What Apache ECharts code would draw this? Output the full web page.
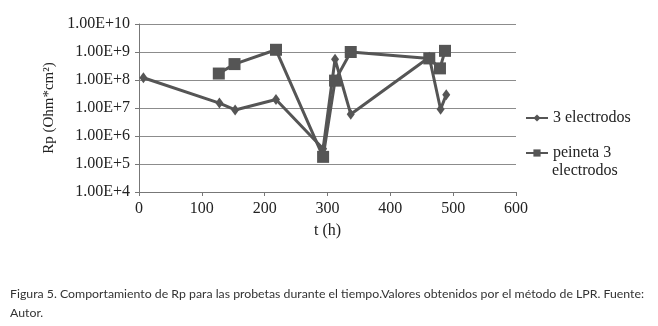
<!DOCTYPE html>
<html>
<head>
<meta charset="utf-8">
<script src="https://cdn.jsdelivr.net/npm/echarts@6/dist/echarts.min.js"></script>
<style>
  html, body { margin: 0; padding: 0; background: #fff; }
  #chart { width: 658px; height: 326px; }
</style>
</head>
<body>
<div id="chart"></div>
<script>
// datos
var tresElectrodosT = [7, 128, 153, 218, 293, 312, 337, 462, 480, 489];
var tresElectrodosRp = [1.2e8, 1.5e7, 8.5e6, 2.0e7, 3.5e5, 5.5e8, 6.0e6, 6.5e8, 9.0e6, 3.0e7];
var peinetaT = [127, 152, 218, 293, 312, 337, 462, 479, 487];
var peinetaRp = [1.7e8, 3.7e8, 1.2e9, 1.8e5, 9.5e7, 1.0e9, 5.9e8, 2.6e8, 1.1e9];
var xTicks = [0, 100, 200, 300, 400, 500, 600];
var yTicks = [1e4, 1e5, 1e6, 1e7, 1e8, 1e9, 1e10];

function pares(t, v) {
  var out = [];
  for (var i = 0; i < t.length; i++) out.push([t[i], v[i]]);
  return out;
}

var chart = echarts.init(document.getElementById('chart'));
var serif = '"Liberation Serif", "Times New Roman", serif';
var gris = '#555555';

var option = {
  animation: false,
  grid: { left: 139, right: 142, top: 24, bottom: 134 },
  xAxis: {
    type: 'value',
    min: xTicks[0],
    max: xTicks[xTicks.length - 1],
    interval: 100,
    name: 't (h)',
    nameLocation: 'middle',
    nameGap: 31,
    nameTextStyle: { fontFamily: serif, fontSize: 16, color: '#222' },
    axisLine: { lineStyle: { color: '#777', width: 1 } },
    axisTick: { show: true, length: 4, lineStyle: { color: '#777' } },
    axisLabel: { fontFamily: serif, fontSize: 16, color: '#222', margin: 9 },
    splitLine: { show: false }
  },
  yAxis: {
    type: 'log',
    logBase: 10,
    min: yTicks[0],
    max: yTicks[yTicks.length - 1],
    name: 'Rp (Ohm*cm²)',
    nameLocation: 'middle',
    nameGap: 76,
    nameTextStyle: { fontFamily: serif, fontSize: 15, color: '#222' },
    axisLine: { show: true, lineStyle: { color: '#777', width: 1 } },
    axisTick: { show: true, length: 4, lineStyle: { color: '#777' } },
    axisLabel: {
      fontFamily: serif, fontSize: 16, color: '#222', margin: 9,
      formatter: function (v) { return v.toExponential(2).toUpperCase(); }
    },
    splitLine: { show: true, lineStyle: { color: '#8c8c8c', width: 1 } }
  },
  legend: [
    {
      left: 520, top: 105, orient: 'vertical',
      itemWidth: 22, itemHeight: 9,
      textStyle: { fontFamily: serif, fontSize: 16, color: '#222' },
      data: ['3 electrodos']
    },
    {
      left: 520, top: 140, orient: 'vertical',
      itemWidth: 22, itemHeight: 9,
      textStyle: { fontFamily: serif, fontSize: 16, color: '#222' },
      formatter: function () { return 'peineta 3'; },
      data: ['peineta 3 electrodos']
    }
  ],
  series: [
    {
      name: '3 electrodos',
      type: 'line',
      data: pares(tresElectrodosT, tresElectrodosRp),
      symbol: 'diamond',
      symbolSize: [8, 11],
      lineStyle: { color: gris, width: 3 },
      itemStyle: { color: gris }
    },
    {
      name: 'peineta 3 electrodos',
      type: 'line',
      data: pares(peinetaT, peinetaRp),
      symbol: 'rect',
      symbolSize: 12,
      lineStyle: { color: gris, width: 3 },
      itemStyle: { color: gris }
    }
  ],
  graphic: [
    {
      type: 'text', left: 552, top: 163,
      style: { text: 'electrodos', font: '16px "Liberation Serif", serif', fill: '#222' }
    },
    {
      type: 'text', left: 10, top: 288,
      style: {
        text: 'Figura 5. Comportamiento de Rp para las probetas durante el tiempo.Valores obtenidos por el método de LPR. Fuente:',
        font: '12.3px Lato, "Noto Sans", sans-serif', fill: '#333'
      }
    },
    {
      type: 'text', left: 10, top: 307,
      style: { text: 'Autor.', font: '12.3px Lato, "Noto Sans", sans-serif', fill: '#333' }
    }
  ]
};

chart.setOption(option);
</script>
</body>
</html>
